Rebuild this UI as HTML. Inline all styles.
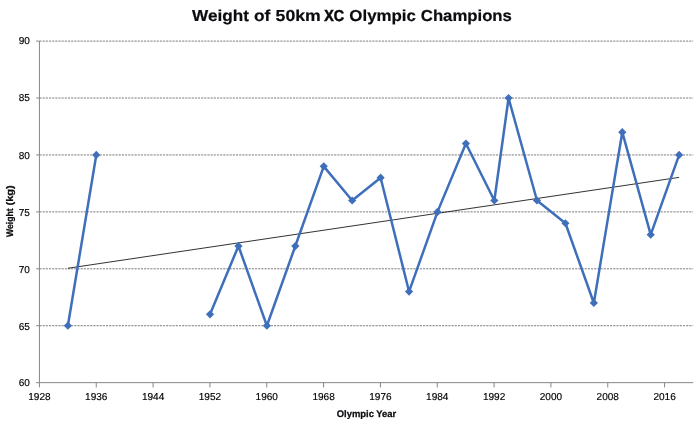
<!DOCTYPE html>
<html><head><meta charset="utf-8"><title>Weight of 50km XC Olympic Champions</title>
<style>
html,body{margin:0;padding:0;background:#fff;}
body{width:700px;height:428px;overflow:hidden;}
svg{display:block;text-rendering:geometricPrecision;font-family:"Liberation Sans",sans-serif;}
.lab{font-size:10.05px;fill:#000;stroke:#000;stroke-width:0.15px;}
.bold{font-weight:bold;fill:#0c0c10;}
.sm{stroke:#0c0c10;stroke-width:0.25px;}
</style></head><body>
<svg width="700" height="428" viewBox="0 0 700 428">
<rect width="700" height="428" fill="#fff"/>

<line x1="39.43" y1="325.73" x2="693.2" y2="325.73" stroke="#7c7c7c" stroke-width="1" stroke-dasharray="2.15 1.02"/>
<line x1="39.43" y1="268.80" x2="693.2" y2="268.80" stroke="#7c7c7c" stroke-width="1" stroke-dasharray="2.15 1.02"/>
<line x1="39.43" y1="211.88" x2="693.2" y2="211.88" stroke="#7c7c7c" stroke-width="1" stroke-dasharray="2.15 1.02"/>
<line x1="39.43" y1="154.95" x2="693.2" y2="154.95" stroke="#7c7c7c" stroke-width="1" stroke-dasharray="2.15 1.02"/>
<line x1="39.43" y1="98.03" x2="693.2" y2="98.03" stroke="#7c7c7c" stroke-width="1" stroke-dasharray="2.15 1.02"/>
<line x1="39.43" y1="41.10" x2="693.2" y2="41.10" stroke="#7c7c7c" stroke-width="1" stroke-dasharray="2.15 1.02"/>
<line x1="39.43" y1="41.1" x2="39.43" y2="382.65" stroke="#868686" stroke-width="1"/>
<line x1="39.43" y1="382.65" x2="693.2" y2="382.65" stroke="#868686" stroke-width="1"/>
<line x1="36.13" y1="382.65" x2="39.43" y2="382.65" stroke="#868686" stroke-width="1"/>
<text class="lab" transform="translate(29.9 386.4)" text-anchor="end">60</text>
<line x1="36.13" y1="325.73" x2="39.43" y2="325.73" stroke="#868686" stroke-width="1"/>
<text class="lab" transform="translate(29.9 329.8)" text-anchor="end">65</text>
<line x1="36.13" y1="268.80" x2="39.43" y2="268.80" stroke="#868686" stroke-width="1"/>
<text class="lab" transform="translate(29.9 272.8)" text-anchor="end">70</text>
<line x1="36.13" y1="211.88" x2="39.43" y2="211.88" stroke="#868686" stroke-width="1"/>
<text class="lab" transform="translate(29.9 215.8)" text-anchor="end">75</text>
<line x1="36.13" y1="154.95" x2="39.43" y2="154.95" stroke="#868686" stroke-width="1"/>
<text class="lab" transform="translate(29.9 158.8)" text-anchor="end">80</text>
<line x1="36.13" y1="98.03" x2="39.43" y2="98.03" stroke="#868686" stroke-width="1"/>
<text class="lab" transform="translate(29.9 100.8)" text-anchor="end">85</text>
<line x1="36.13" y1="41.10" x2="39.43" y2="41.10" stroke="#868686" stroke-width="1"/>
<text class="lab" transform="translate(29.9 44.0)" text-anchor="end">90</text>
<line x1="39.43" y1="382.65" x2="39.43" y2="387.45" stroke="#868686" stroke-width="1"/>
<text class="lab" transform="translate(39.43 400.45)" text-anchor="middle">1928</text>
<line x1="96.26" y1="382.65" x2="96.26" y2="387.45" stroke="#868686" stroke-width="1"/>
<text class="lab" transform="translate(96.26 400.45)" text-anchor="middle">1936</text>
<line x1="153.09" y1="382.65" x2="153.09" y2="387.45" stroke="#868686" stroke-width="1"/>
<text class="lab" transform="translate(153.09 400.45)" text-anchor="middle">1944</text>
<line x1="209.93" y1="382.65" x2="209.93" y2="387.45" stroke="#868686" stroke-width="1"/>
<text class="lab" transform="translate(209.93 400.45)" text-anchor="middle">1952</text>
<line x1="266.76" y1="382.65" x2="266.76" y2="387.45" stroke="#868686" stroke-width="1"/>
<text class="lab" transform="translate(266.76 400.45)" text-anchor="middle">1960</text>
<line x1="323.59" y1="382.65" x2="323.59" y2="387.45" stroke="#868686" stroke-width="1"/>
<text class="lab" transform="translate(323.59 400.45)" text-anchor="middle">1968</text>
<line x1="380.42" y1="382.65" x2="380.42" y2="387.45" stroke="#868686" stroke-width="1"/>
<text class="lab" transform="translate(380.42 400.45)" text-anchor="middle">1976</text>
<line x1="437.25" y1="382.65" x2="437.25" y2="387.45" stroke="#868686" stroke-width="1"/>
<text class="lab" transform="translate(437.25 400.45)" text-anchor="middle">1984</text>
<line x1="494.09" y1="382.65" x2="494.09" y2="387.45" stroke="#868686" stroke-width="1"/>
<text class="lab" transform="translate(494.09 400.45)" text-anchor="middle">1992</text>
<line x1="550.92" y1="382.65" x2="550.92" y2="387.45" stroke="#868686" stroke-width="1"/>
<text class="lab" transform="translate(550.92 400.45)" text-anchor="middle">2000</text>
<line x1="607.75" y1="382.65" x2="607.75" y2="387.45" stroke="#868686" stroke-width="1"/>
<text class="lab" transform="translate(607.75 400.45)" text-anchor="middle">2008</text>
<line x1="664.58" y1="382.65" x2="664.58" y2="387.45" stroke="#868686" stroke-width="1"/>
<text class="lab" transform="translate(664.58 400.45)" text-anchor="middle">2016</text>
<line x1="67.86" y1="268.25" x2="679.15" y2="177.37" stroke="#1c1c1c" stroke-width="0.9"/>
<polyline points="67.86,325.73 96.29,154.95" fill="none" stroke="#3f6fba" stroke-width="2.5" stroke-linejoin="round" stroke-linecap="round"/>
<polyline points="210.02,314.34 238.45,246.03 266.89,325.73 295.32,246.03 323.75,166.34 352.18,200.49 380.61,177.72 409.05,291.57 437.48,211.88 465.91,143.56 494.34,200.49 508.56,98.03 536.99,200.49 565.42,223.26 593.85,302.96 622.29,132.18 650.72,234.64 679.15,154.95" fill="none" stroke="#3f6fba" stroke-width="2.5" stroke-linejoin="round" stroke-linecap="round"/>
<path d="M63.76 325.73L67.86 321.62L71.96 325.73L67.86 329.83Z" fill="#3f6fba"/>
<path d="M92.19 154.95L96.29 150.85L100.39 154.95L96.29 159.05Z" fill="#3f6fba"/>
<path d="M205.92 314.34L210.02 310.24L214.12 314.34L210.02 318.44Z" fill="#3f6fba"/>
<path d="M234.35 246.03L238.45 241.93L242.55 246.03L238.45 250.13Z" fill="#3f6fba"/>
<path d="M262.79 325.73L266.89 321.62L270.99 325.73L266.89 329.83Z" fill="#3f6fba"/>
<path d="M291.22 246.03L295.32 241.93L299.42 246.03L295.32 250.13Z" fill="#3f6fba"/>
<path d="M319.65 166.34L323.75 162.24L327.85 166.34L323.75 170.44Z" fill="#3f6fba"/>
<path d="M348.08 200.49L352.18 196.39L356.28 200.49L352.18 204.59Z" fill="#3f6fba"/>
<path d="M376.51 177.72L380.61 173.62L384.71 177.72L380.61 181.82Z" fill="#3f6fba"/>
<path d="M404.95 291.57L409.05 287.47L413.15 291.57L409.05 295.67Z" fill="#3f6fba"/>
<path d="M433.38 211.88L437.48 207.78L441.58 211.88L437.48 215.97Z" fill="#3f6fba"/>
<path d="M461.81 143.56L465.91 139.47L470.01 143.56L465.91 147.66Z" fill="#3f6fba"/>
<path d="M490.24 200.49L494.34 196.39L498.44 200.49L494.34 204.59Z" fill="#3f6fba"/>
<path d="M504.46 98.03L508.56 93.93L512.66 98.03L508.56 102.12Z" fill="#3f6fba"/>
<path d="M532.89 200.49L536.99 196.39L541.09 200.49L536.99 204.59Z" fill="#3f6fba"/>
<path d="M561.32 223.26L565.42 219.16L569.52 223.26L565.42 227.36Z" fill="#3f6fba"/>
<path d="M589.75 302.96L593.85 298.86L597.95 302.96L593.85 307.06Z" fill="#3f6fba"/>
<path d="M618.19 132.18L622.29 128.08L626.39 132.18L622.29 136.28Z" fill="#3f6fba"/>
<path d="M646.62 234.64L650.72 230.54L654.82 234.64L650.72 238.74Z" fill="#3f6fba"/>
<path d="M675.05 154.95L679.15 150.85L683.25 154.95L679.15 159.05Z" fill="#3f6fba"/>
<text class="bold" y="21.3" font-size="15.9px" stroke="#0c0c10" stroke-width="0.2"><tspan x="192.05" textLength="56.9" lengthAdjust="spacingAndGlyphs">Weight</tspan> <tspan x="253.9" textLength="16.3" lengthAdjust="spacingAndGlyphs">of</tspan> <tspan x="275.6" textLength="45.2" lengthAdjust="spacingAndGlyphs">50km</tspan> <tspan x="324.25" textLength="19.8" lengthAdjust="spacingAndGlyphs" stroke-width="0.55">XC</tspan> <tspan x="349.35" textLength="66.6" lengthAdjust="spacingAndGlyphs">Olympic</tspan> <tspan x="420.8" textLength="91.1" lengthAdjust="spacingAndGlyphs">Champions</tspan></text>
<text class="bold sm" x="336.8" y="417.3" font-size="9.6px" textLength="59.4" lengthAdjust="spacingAndGlyphs">Olympic Year</text>
<text class="bold sm" transform="translate(13.2 237.1) rotate(-90)" font-size="9.6px"><tspan x="0" textLength="28.8" lengthAdjust="spacingAndGlyphs">Weight</tspan> <tspan x="31.6" textLength="20.2" lengthAdjust="spacingAndGlyphs">(kg)</tspan></text>
</svg>
</body></html>
